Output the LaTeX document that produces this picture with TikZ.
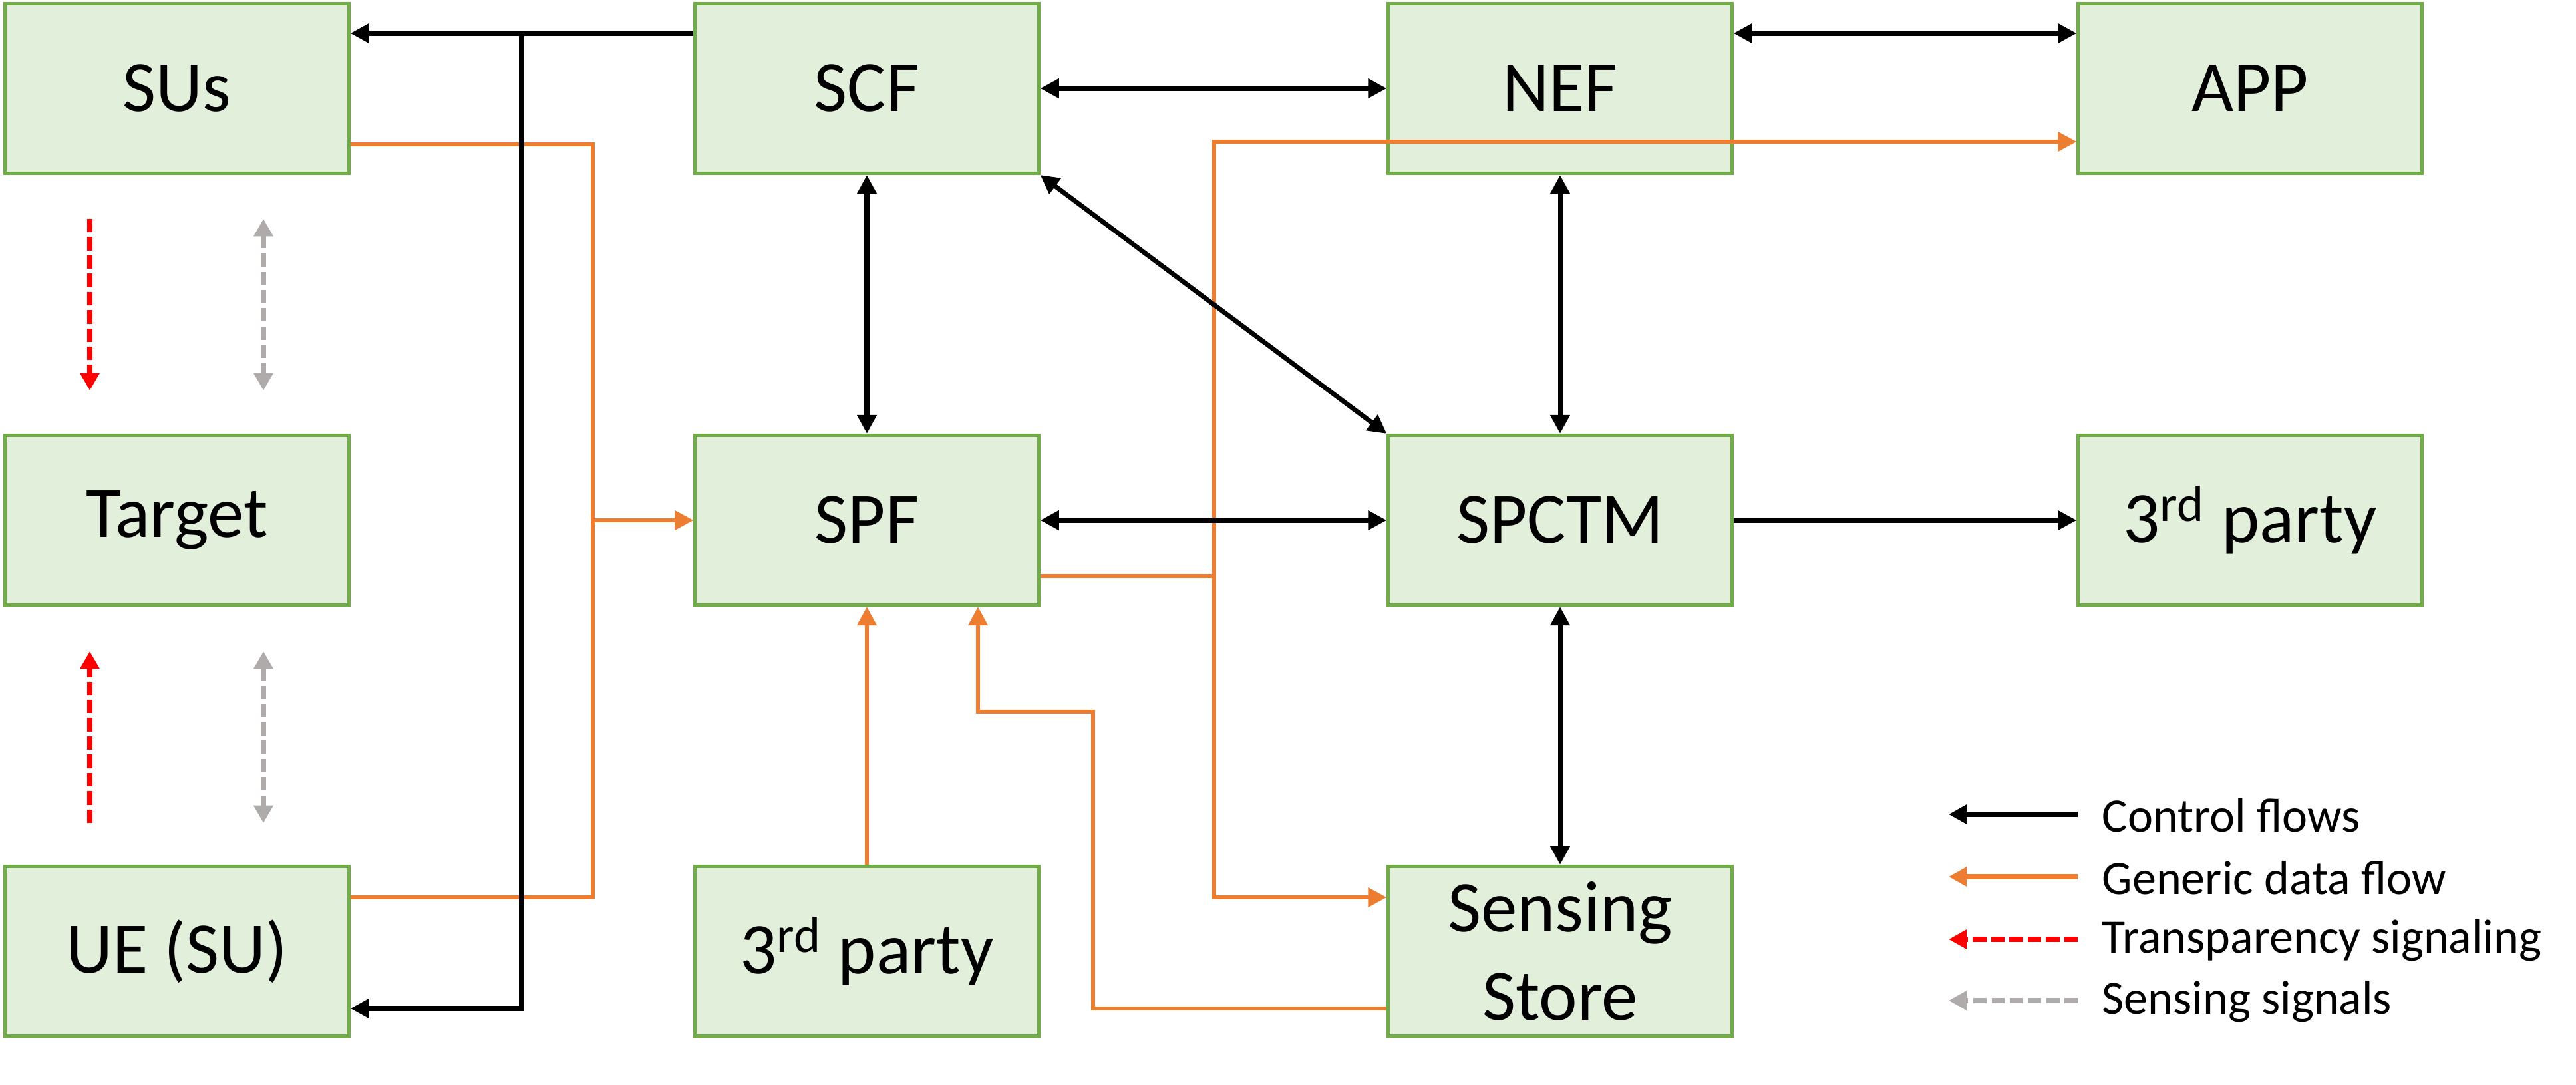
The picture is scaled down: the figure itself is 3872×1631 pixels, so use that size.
\documentclass[tikz,border=0pt]{standalone}
\usepackage{fontspec}
\setmainfont{Carlito}
\usetikzlibrary{arrows.meta}
\definecolor{boxfill}{HTML}{E2EFDA}
\definecolor{boxline}{HTML}{70AD47}
\definecolor{dataorange}{HTML}{ED7D31}
\definecolor{sensgray}{HTML}{AFABAB}
\definecolor{transred}{HTML}{FF0000}
\tikzset{
  fbox/.style={draw=boxline, fill=boxfill, line width=1.4pt, minimum width=5.16cm, minimum height=2.55cm, inner sep=0pt, align=center, font=\fontsize{31}{38}\selectfont},
  >={Triangle[length=8pt,width=8pt]},
  ctrl/.style={line width=2pt, draw=black},
  dataflow/.style={line width=1.9pt, draw=dataorange},
  transsig/.style={line width=2pt, draw=transred, dash pattern=on 5.8pt off 2pt, >={Triangle[length=7.5pt,width=8pt]}},
  senssig/.style={line width=2pt, draw=sensgray, dash pattern=on 5.6pt off 2.2pt, >={Triangle[length=7.5pt,width=8pt]}},
  legtext/.style={anchor=west, inner sep=0pt, font=\fontsize{20.5}{24}\selectfont},
  legline/.style={line width=2pt, >={Triangle[length=7.6pt,width=7.8pt]}}
}
\begin{document}
\begin{tikzpicture}[x=0.01cm, y=-0.01cm]
\useasboundingbox (0,0) rectangle (3872,1631);
% boxes
\node[fbox] (sus)   at (266,133)  {SUs};
\node[fbox] (scf)   at (1303,133) {SCF};
\node[fbox] (nef)   at (2345,133) {NEF};
\node[fbox] (app)   at (3382,133) {APP};
\node[fbox] (tgt)   at (266,782)  {Target};
\node[fbox] (spf)   at (1303,782) {SPF};
\node[fbox] (spctm) at (2345,782) {SPCTM};
\node[fbox] (tpa)   at (3382,782) {3\textsuperscript{rd} party};
\node[fbox] (ue)    at (266,1430) {UE (SU)};
\node[fbox] (tpb)   at (1303,1430) {3\textsuperscript{rd} party};
\node[fbox] (ss)    at (2345,1430) {Sensing\\Store};
% junction coordinates
\coordinate (j1) at (784,50);
\coordinate (j2) at (784,1516);
\coordinate (o1) at (891,217);
\coordinate (o2) at (891,782);
\coordinate (o3) at (891,1349);
\coordinate (o4) at (1825,866);
\coordinate (o5) at (1825,213);
\coordinate (o6) at (1825,1349);
\coordinate (o7) at (1643,1516);
\coordinate (o8) at (1643,1070);
\coordinate (o9) at (1470,1070);
% orange data flows
\draw[dataflow,->] (sus.east |- o1) -- (o1) -- (o2) -- (spf.west);
\draw[dataflow] (ue.east |- o3) -- (o3) -- (o2);
\draw[dataflow,->] (spf.east |- o4) -- (o4) -- (o5) -- (app.west |- o5);
\draw[dataflow,->] (o4) -- (o6) -- (ss.west |- o6);
\draw[dataflow,->] (tpb.north) -- (spf.south);
\draw[dataflow,->] (ss.west |- o7) -- (o7) -- (o8) -- (o9) -- (spf.south -| o9);
% black control flows
\draw[ctrl,->] (scf.west |- j1) -- (sus.east |- j1);
\draw[ctrl,->] (j1) -- (j2) -- (ue.east |- j2);
\draw[ctrl,<->] (scf.east) -- (nef.west);
\draw[ctrl,<->] (nef.east |- j1) -- (app.west |- j1);
\draw[ctrl,<->] (scf.south) -- (spf.north);
\draw[ctrl,<->] (scf.south east) -- (spctm.north west);
\draw[ctrl,<->] (spf.east) -- (spctm.west);
\draw[ctrl,<->] (nef.south) -- (spctm.north);
\draw[ctrl,->] (spctm.east) -- (tpa.west);
\draw[ctrl,<->] (spctm.south) -- (ss.north);
% signaling arrows
\coordinate (r1a) at (135,329);
\coordinate (r1b) at (135,587);
\coordinate (r2a) at (135,1237);
\coordinate (r2b) at (135,979);
\coordinate (g1a) at (396,329);
\coordinate (g1b) at (396,587);
\coordinate (g2a) at (396,979);
\coordinate (g2b) at (396,1237);
\draw[transsig,->] (r1a) -- (r1b);
\draw[transsig,->] (r2a) -- (r2b);
\draw[senssig,<->] (g1a) -- (g1b);
\draw[senssig,<->] (g2a) -- (g2b);
% legend
\coordinate (la1) at (3123,1224);
\coordinate (la2) at (2929,1224);
\coordinate (lb1) at (3123,1318);
\coordinate (lb2) at (2929,1318);
\coordinate (lc1) at (3123,1412);
\coordinate (lc2) at (2929,1412);
\coordinate (ld1) at (3123,1504);
\coordinate (ld2) at (2929,1504);
\draw[ctrl,legline,->] (la1) -- (la2);
\draw[dataflow,legline,->] (lb1) -- (lb2);
\draw[transsig,legline,->] (lc1) -- (lc2);
\draw[senssig,legline,->] (ld1) -- (ld2);
\node[legtext] (lta) at (3159,1226) {Control flows};
\node[legtext] (ltb) at (3159,1320) {Generic data flow};
\node[legtext] (ltc) at (3159,1414) {Transparency signaling};
\node[legtext] (ltd) at (3159,1506) {Sensing signals};
\end{tikzpicture}
\end{document}
